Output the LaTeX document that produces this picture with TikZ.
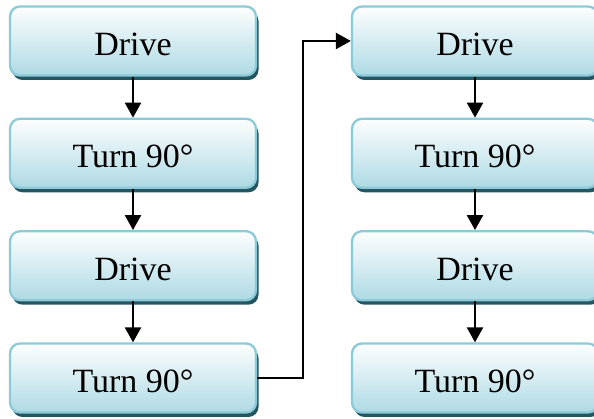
\documentclass[tikz,border=0pt]{standalone}
\usepackage{fontspec}
\setmainfont{Liberation Serif}
\usetikzlibrary{arrows.meta,shadows}
\definecolor{boxline}{RGB}{140,202,216}
\definecolor{boxbot}{RGB}{174,218,228}
\definecolor{boxtop}{RGB}{253,254,254}
\definecolor{boxshadow}{RGB}{36,86,98}
\tikzset{
  stepbox/.style={draw=boxline, line width=2.3pt, rounded corners=10pt,
    top color=boxtop, bottom color=boxbot,
    minimum width=246pt, minimum height=69pt, inner sep=0pt,
    text height=29pt, text depth=0pt,
    font=\fontsize{34}{40}\selectfont,
    drop shadow={shadow xshift=2.5pt, shadow yshift=-4.5pt, fill=boxshadow, opacity=1}},
  conn/.style={draw=black, line width=2.4pt, -{Triangle[length=15pt,width=16pt]}}
}
\begin{document}
\begin{tikzpicture}[x=1pt,y=1pt]
\useasboundingbox (0,0) rectangle (594,419);
\clip (0,0) rectangle (594,419);
\node[stepbox] (L1) at (133,378) {Drive};
\node[stepbox] (L2) at (133,265.7) {Turn 90°};
\node[stepbox] (L3) at (133,153.3) {Drive};
\node[stepbox] (L4) at (133,41) {Turn 90°};
\node[stepbox] (R1) at (475,378) {Drive};
\node[stepbox] (R2) at (475,265.7) {Turn 90°};
\node[stepbox] (R3) at (475,153.3) {Drive};
\node[stepbox] (R4) at (475,41) {Turn 90°};
\draw[conn] (L1.south) -- (L2.north);
\draw[conn] (L2.south) -- (L3.north);
\draw[conn] (L3.south) -- (L4.north);
\draw[conn] (R1.south) -- (R2.north);
\draw[conn] (R2.south) -- (R3.north);
\draw[conn] (R3.south) -- (R4.north);
\draw[conn] (L4.east) -- ++(46,0) |- (R1.west);
\end{tikzpicture}
\end{document}
